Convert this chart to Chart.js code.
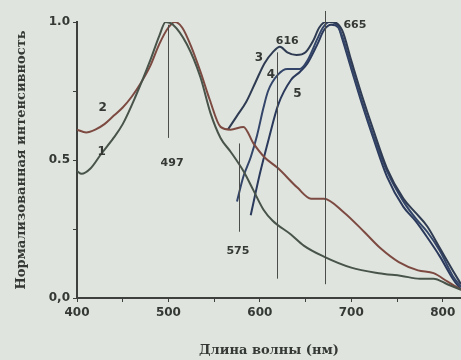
<!DOCTYPE html>
<html>
<head>
<meta charset="utf-8">
<script src="https://cdn.jsdelivr.net/npm/chart.js@4.4.1/dist/chart.umd.min.js"></script>
<style>
  html, body { margin: 0; padding: 0; background: #dfe5de; }
  canvas { display: block; }
</style>
</head>
<body>
<canvas id="spectraChart" width="461" height="360"></canvas>
<script>
// Normalized spectra
const wl1 = [400, 405, 415, 426, 440, 450, 464, 480, 490, 497, 505, 520, 535, 546, 557, 568, 582, 593, 604, 614, 634, 648, 670, 700, 730, 755, 775, 790, 805, 820];
const int1 = [0.46, 0.45, 0.47, 0.52, 0.58, 0.63, 0.73, 0.86, 0.95, 1.0, 0.99, 0.92, 0.80, 0.67, 0.58, 0.53, 0.46, 0.39, 0.32, 0.28, 0.23, 0.19, 0.15, 0.11, 0.09, 0.08, 0.07, 0.07, 0.05, 0.03];

const wl2 = [400, 410, 420, 430, 440, 450, 460, 470, 480, 490, 500, 507, 515, 525, 535, 545, 557, 568, 582, 593, 605, 620, 641, 656, 670, 692, 714, 732, 752, 773, 790, 805, 820];
const int2 = [0.61, 0.60, 0.61, 0.63, 0.66, 0.69, 0.73, 0.78, 0.84, 0.92, 0.98, 1.0, 0.98, 0.91, 0.82, 0.72, 0.62, 0.61, 0.62, 0.56, 0.51, 0.47, 0.40, 0.36, 0.36, 0.31, 0.24, 0.18, 0.13, 0.10, 0.09, 0.06, 0.03];

const wl3 = [565, 575, 585, 595, 605, 614, 622, 630, 640, 650, 658, 665, 672, 680, 690, 700, 712, 724, 739, 757, 770, 783, 797, 811, 820];
const int3 = [0.61, 0.66, 0.71, 0.78, 0.85, 0.89, 0.91, 0.89, 0.88, 0.89, 0.93, 0.98, 1.0, 1.0, 0.97, 0.86, 0.73, 0.61, 0.47, 0.36, 0.31, 0.26, 0.18, 0.10, 0.05];

const wl4 = [575, 582, 590, 597, 604, 609, 620, 630, 644, 652, 663, 669, 676, 684, 690, 700, 712, 724, 739, 757, 770, 783, 797, 811, 820];
const int4 = [0.35, 0.44, 0.51, 0.59, 0.69, 0.75, 0.81, 0.83, 0.83, 0.86, 0.94, 0.98, 1.0, 0.99, 0.95, 0.84, 0.71, 0.59, 0.46, 0.35, 0.29, 0.24, 0.17, 0.08, 0.04];

const wl5 = [590, 600, 610, 620, 634, 644, 652, 663, 670, 678, 686, 690, 700, 712, 724, 739, 757, 770, 783, 797, 811, 820];
const int5 = [0.30, 0.45, 0.58, 0.70, 0.79, 0.82, 0.85, 0.92, 0.97, 0.99, 0.98, 0.94, 0.83, 0.70, 0.58, 0.44, 0.33, 0.28, 0.22, 0.15, 0.07, 0.03];

// Peak markers (vertical lines) and their labels
const markerWl = [499, 577, 619, 671];
const markerTop = [0.99, 0.56, 0.89, 1.04];
const markerBottom = [0.58, 0.24, 0.07, 0.05];
const markerText = ["497", "575", "616", "665"];
const markerLabelWl = [504, 576, 630, 704];
const markerLabelVal = [0.49, 0.17, 0.93, 0.99];

// Curve numbers
const curveText = ["1", "2", "3", "4", "5"];
const curveLabelWl = [427, 428, 599, 612, 641];
const curveLabelVal = [0.53, 0.69, 0.87, 0.81, 0.74];

const curveColors = ["#48534a", "#7d4a42", "#2f3b52", "#34456a", "#2b3a5c"];
const inkColor = "#353835";

function toPoints(xs, ys) {
    return xs.map((x, i) => ({ x: x, y: ys[i] }));
}

const annotationPlugin = {
    id: "peakMarks",
    afterDatasetsDraw(chart) {
        const ctx = chart.ctx;
        const xs = chart.scales.x;
        const ys = chart.scales.y;
        ctx.save();
        ctx.strokeStyle = "#4a4d4a";
        ctx.lineWidth = 1;
        markerWl.forEach((w, i) => {
            const px = Math.round(xs.getPixelForValue(w)) + 0.5;
            ctx.beginPath();
            ctx.moveTo(px, ys.getPixelForValue(markerTop[i]));
            ctx.lineTo(px, ys.getPixelForValue(markerBottom[i]));
            ctx.stroke();
        });
        ctx.fillStyle = inkColor;
        ctx.textAlign = "center";
        ctx.textBaseline = "middle";
        ctx.font = "bold 11px 'DejaVu Sans'";
        markerText.forEach((t, i) => {
            ctx.fillText(t, xs.getPixelForValue(markerLabelWl[i]), ys.getPixelForValue(markerLabelVal[i]));
        });
        ctx.font = "bold 12px 'DejaVu Sans'";
        curveText.forEach((t, i) => {
            ctx.fillText(t, xs.getPixelForValue(curveLabelWl[i]), ys.getPixelForValue(curveLabelVal[i]));
        });
        ctx.restore();
    },
};

const datasets = [
    [wl1, int1],
    [wl2, int2],
    [wl3, int3],
    [wl4, int4],
    [wl5, int5],
].map((d, i) => ({
    label: curveText[i],
    data: toPoints(d[0], d[1]),
    borderColor: curveColors[i],
    borderWidth: 2,
    pointRadius: 0,
    fill: false,
    cubicInterpolationMode: "monotone",
}));

new Chart(document.getElementById("spectraChart").getContext("2d"), {
    type: "line",
    data: { datasets: datasets },
    plugins: [annotationPlugin],
    options: {
        responsive: false,
        animation: false,
        devicePixelRatio: 1,
        layout: { padding: { top: 22, right: 0, left: 0, bottom: 0 } },
        plugins: {
            legend: { display: false },
            tooltip: { enabled: false },
        },
        scales: {
            x: {
                type: "linear",
                min: 400,
                max: 820,
                afterFit: (scale) => { scale.height = 62; },
                border: { display: true, color: "#3d403d", width: 2 },
                grid: { drawOnChartArea: false, drawTicks: true, tickLength: 4, color: "#3d403d" },
                ticks: {
                    stepSize: 50,
                    includeBounds: false,
                    autoSkip: false,
                    maxRotation: 0,
                    padding: 4,
                    color: inkColor,
                    font: { family: "'DejaVu Sans'", weight: "bold", size: 12 },
                    callback: (v) => (v % 100 === 0 ? String(v) : ""),
                },
                title: {
                    display: true,
                    text: "Длина волны (нм)",
                    color: inkColor,
                    font: { family: "'DejaVu Serif'", weight: "bold", size: 13 },
                    padding: { top: 0, bottom: 2 },
                },
            },
            y: {
                min: 0,
                max: 1,
                afterFit: (scale) => { scale.width = 77; },
                border: { display: true, color: "#3d403d", width: 2 },
                grid: { drawOnChartArea: false, drawTicks: true, tickLength: 4, color: "#3d403d" },
                ticks: {
                    stepSize: 0.25,
                    padding: 3,
                    color: inkColor,
                    font: { family: "'DejaVu Sans'", weight: "bold", size: 12 },
                    callback: (v) => (v === 0 ? "0,0" : v === 0.5 ? "0.5" : v === 1 ? "1.0" : ""),
                },
                title: {
                    display: true,
                    text: "Нормализованная интенсивность",
                    color: inkColor,
                    font: { family: "'DejaVu Serif'", weight: "bold", size: 13 },
                    padding: { top: 14, bottom: 0 },
                },
            },
        },
    },
});
</script>
</body>
</html>
